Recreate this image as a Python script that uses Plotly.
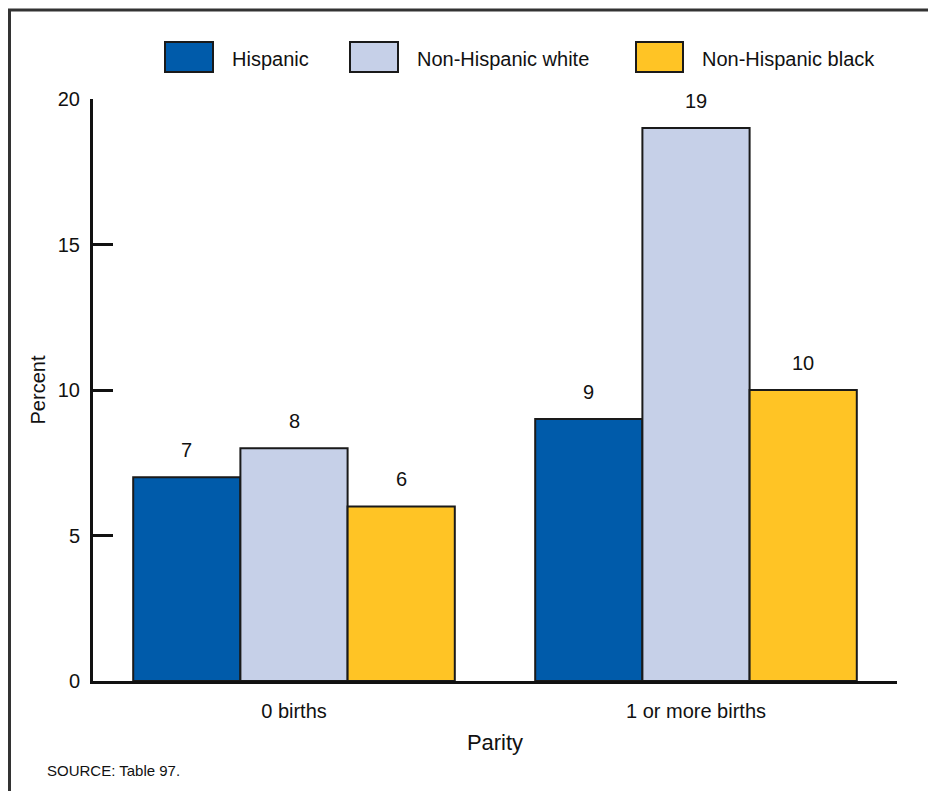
import plotly.graph_objects as go

categories = ["0 births", "1 or more births"]
series_names = ["Hispanic", "Non-Hispanic white", "Non-Hispanic black"]
hispanic = [7, 9]
nh_white = [8, 19]
nh_black = [6, 10]
y_ticks = [0, 5, 10, 15, 20]

colors = ["#005BAA", "#C6D0E8", "#FFC425"]
FONT = "Liberation Sans Narrow, Arial Narrow, Liberation Sans, Arial, sans-serif"

OFF = 8  # page body margin
W, H = 936 - OFF, 791 - OFF
ML, MR, MT, MB = 93 - OFF, 39, 99 - OFF, 110
PW, PH = W - ML - MR, H - MT - MB


def px2x(px):
    return (px - OFF - ML) / PW


def px2y(py):
    return (H - MB - (py - OFF)) / PH


fig = go.Figure()
values = [hispanic, nh_white, nh_black]
for name, vals, col in zip(series_names, values, colors):
    fig.add_trace(go.Bar(
        x=categories, y=vals, name=name,
        marker=dict(color=col, line=dict(color="#1a1a1a", width=2)),
        showlegend=False,
    ))

bargap = 0.2
cat_px = PW / len(categories)
bar_px = cat_px * (1 - bargap) / len(series_names)
annotations = []
for i, vals in enumerate(values):
    for c, v in zip(categories, vals):
        annotations.append(dict(
            x=c, y=v, xref="x", yref="y", text=str(v), showarrow=False,
            xshift=(i - 1) * bar_px, yshift=27,
            font=dict(family=FONT, size=20, color="#111"),
        ))

# manual legend
leg_boxes = [(165, 213, 230), (350, 398, 415), (636, 683, 700)]
shapes = []
for (x0, x1, tx), name, col in zip(leg_boxes, series_names, colors):
    shapes.append(dict(type="rect", xref="paper", yref="paper",
                       x0=px2x(x0), x1=px2x(x1), y0=px2y(72), y1=px2y(42),
                       fillcolor=col, line=dict(color="#1a1a1a", width=2)))
    annotations.append(dict(x=px2x(tx), y=px2y(59), xref="paper", yref="paper",
                            text=name, showarrow=False, xanchor="left", yanchor="middle",
                            font=dict(family=FONT, size=20, color="#111")))

# frame
shapes.append(dict(type="rect", xref="paper", yref="paper",
                   x0=px2x(9.5), x1=px2x(960), y0=px2y(820), y1=px2y(10),
                   line=dict(color="#333", width=3), fillcolor="rgba(0,0,0,0)", layer="below"))

annotations.append(dict(x=px2x(45), y=px2y(771), xref="paper", yref="paper",
                        text="SOURCE: Table 97.", showarrow=False, xanchor="left",
                        yanchor="middle", font=dict(family=FONT, size=15, color="#111")))

fig.update_layout(
    width=W, height=H,
    margin=dict(l=ML, r=MR, t=MT, b=MB),
    barmode="group", bargap=bargap, bargroupgap=0,
    plot_bgcolor="white", paper_bgcolor="white",
    font=dict(family=FONT, size=20, color="#111"),
    annotations=annotations, shapes=shapes,
    xaxis=dict(showline=True, linecolor="#111", linewidth=3, ticks="",
               tickfont=dict(size=20), ticklabelstandoff=10,
               title=dict(text="Parity", font=dict(size=22), standoff=14)),
    yaxis=dict(range=[0, 20], tickvals=y_ticks, showline=True, linecolor="#111",
               linewidth=3, ticks="inside", ticklen=20, tickwidth=2.5, tickcolor="#111",
               showgrid=False, zeroline=False, tickfont=dict(size=20),
               ticklabelstandoff=6,
               title=dict(text="Percent", font=dict(size=20), standoff=7)),
)

fig.write_html("out.html")
